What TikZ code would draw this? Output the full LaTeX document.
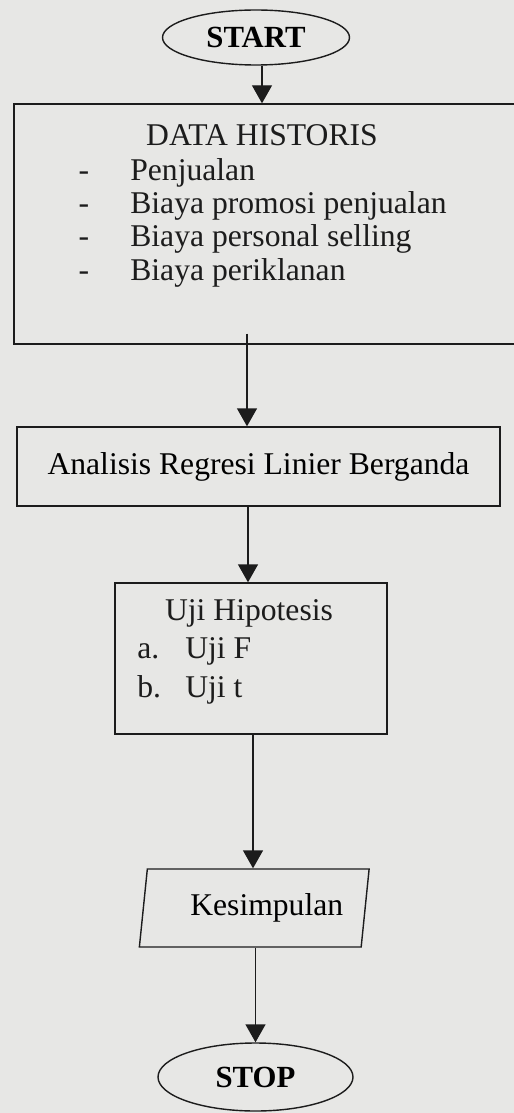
\documentclass[tikz,border=0pt]{standalone}
\usepackage{fontspec}
\setmainfont{Liberation Serif}
\usepackage{xcolor}
\usepackage{tikz}
\usetikzlibrary{positioning, arrows.meta, calc, shapes.geometric}
\definecolor{paper}{HTML}{E7E7E5}
\definecolor{ink}{HTML}{1C1C1C}
\tikzset{
  terminal/.style={
    ellipse,
    draw=ink,
    line width=0.8pt,
    minimum width=3.74cm,
    minimum height=1.1cm,
    inner sep=0pt,
    font=\fontsize{17.5}{19}\selectfont\bfseries
  },
  block/.style={
    draw=ink, line width=0.8pt,
    align=center, inner sep=0pt,
    font=\fontsize{18}{20}\selectfont
  },
  io/.style={
    trapezium, trapezium stretches=true,
    trapezium left angle=77, trapezium right angle=103,
    draw=ink, line width=0.8pt, inner sep=0pt,
    font=\fontsize{18}{20}\selectfont
  },
  txt/.style={font=\fontsize{18}{20}\selectfont, inner sep=0pt, text=ink},
  flow/.style={
    -{Triangle[length=0.36cm, width=0.4cm]},
    line width=0.8pt, color=ink
  }
}

\begin{document}
\begin{tikzpicture}

  % ====== PAGE ======
  \fill[paper] (0,0) rectangle (10.28,-22.26);
  \useasboundingbox (0,0) rectangle (10.28,-22.26);

  % ====== START ======
  \node[terminal] (start) at (5.12,-0.75) {START};

  % ====== DATA HISTORIS ======
  \node[block, minimum width=10.2cm, minimum height=4.8cm] (data) at (5.38,-4.48) {};
  \node[txt, anchor=base] (datatitle) at (5.24,-2.92) {DATA HISTORIS};
  \foreach \item [count=\i] in {Penjualan, Biaya promosi penjualan, Biaya personal selling, Biaya periklanan} {
    \node[txt, anchor=base] (dash\i) at (1.68,{-3.62-0.66*(\i-1)}) {-};
    \node[txt, anchor=base west] (item\i) at (2.6,{-3.62-0.66*(\i-1)}) {\item};
  }

  % ====== ANALISIS ======
  \node[block, minimum width=9.66cm, minimum height=1.58cm] (ana) at (5.17,-9.33) {Analisis Regresi Linier Berganda};

  % ====== UJI HIPOTESIS ======
  \node[block, minimum width=5.44cm, minimum height=3.02cm] (uji) at (5.02,-13.17) {};
  \node[txt, anchor=base] (ujititle) at (4.98,-12.4) {Uji Hipotesis};
  \node[txt, anchor=base west] (lbla) at (2.74,-13.16) {a.};
  \node[txt, anchor=base west] (ujif) at (3.7,-13.16) {Uji F};
  \node[txt, anchor=base west] (lblb) at (2.74,-13.94) {b.};
  \node[txt, anchor=base west] (ujit) at (3.7,-13.94) {Uji t};

  % ====== KESIMPULAN ======
  \node[io, minimum width=4.6cm, minimum height=1.56cm] (kes) at (5.085,-18.16) {\hspace{0.5cm}Kesimpulan};

  % ====== STOP ======
  \node[terminal, minimum width=3.9cm, minimum height=1.36cm] (stop) at (5.11,-21.54) {STOP};

  % ====== ARROWS ======
  \draw[flow] ([xshift=0.12cm]start.south) -- ([xshift=0.12cm]start.south |- data.north);
  \draw[flow] ([xshift=-0.23cm, yshift=0.22cm]ana.north |- data.south) -- ([xshift=-0.23cm]ana.north);
  \draw[flow] ([xshift=-0.06cm]uji.north |- ana.south) -- ([xshift=-0.06cm]uji.north);
  \draw[flow] ([xshift=0.04cm]uji.south) -- ([xshift=0.04cm]uji.south |- kes.north);
  \draw[flow] (kes.south -| stop.north) -- (stop.north);

\end{tikzpicture}
\end{document}
